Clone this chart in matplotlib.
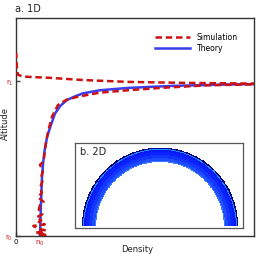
import numpy as np
import matplotlib
matplotlib.use("Agg")
import matplotlib.pyplot as plt
from matplotlib.colors import ListedColormap

# ---- data (density in units of n0, altitude: r0 -> 0, r1 -> 1) ----
theory_x = [1.0, 1.04, 1.08, 1.13, 1.2, 1.3, 1.42, 1.625, 1.85, 2.125, 2.45, 2.79, 3.5, 4.67, 6.5, 8.5, 10.0]
theory_y = [0.0, 0.2, 0.37, 0.47, 0.56, 0.64, 0.70, 0.79, 0.84, 0.877, 0.90, 0.92, 0.94, 0.955, 0.968, 0.976, 0.98]

sim_x = [1.0, 1.3, 0.8, 1.25, 0.9, 0.72, 1.2, 0.95, 1.05, 0.85, 1.1, 0.95, 1.0, 1.15, 0.92, 1.08, 1.0, 1.1,
         1.05, 1.12, 1.0, 1.15, 1.2, 1.28, 1.38, 1.5, 1.75, 2.1, 2.54, 3.5, 4.67, 6.0, 8.0, 9.9, 11.0,
         9.9, 6.83, 4.67, 2.79, 1.42, 0.3, 0.08, 0.03, 0.01]
sim_y = [0.0, 0.01, 0.02, 0.035, 0.05, 0.065, 0.075, 0.09, 0.1, 0.12, 0.14, 0.17, 0.2, 0.22, 0.25, 0.28, 0.31, 0.35,
         0.38, 0.42, 0.46, 0.48, 0.55, 0.63, 0.70, 0.77, 0.845, 0.878, 0.897, 0.925, 0.94, 0.955, 0.972, 0.978, 0.98,
         0.983, 0.988, 0.994, 1.006, 1.02, 1.028, 1.04, 1.1, 1.18]

# radial bands of the 2D ring (radius in units of outer radius) and their colours
ring_r = [0.82, 0.835, 0.87, 0.91, 0.95, 0.975, 0.988, 1.0]
ring_c = ["#3a78ff", "#1f4cff", "#1236ff", "#0a22ff", "#0818f0", "#1f8fff", "#000088"]

fig = plt.figure(figsize=(2.56, 2.54), dpi=100)
ax = fig.add_axes([16/256, 18/254, 238/256, 218/254])

red = "#cc1111"
blue = "#3b3bef"
ax.plot(sim_x, sim_y, color=red, lw=1.8, ls=(0, (2.6, 1.5)), label="Simulation", zorder=3)
ax.plot(theory_x, theory_y, color=blue, lw=1.8, label="Theory", zorder=2)

ax.set_xlim(0, 9.92)
ax.set_ylim(0, 1.406)
ax.set_xticks([0, 1])
ax.set_xticklabels(["0", r"$\mathregular{n_0}$"], fontsize=5)
ax.set_yticks([0, 1])
ax.set_yticklabels([r"$\mathregular{r_0}$", r"$\mathregular{r_1}$"], fontsize=5)
ax.get_xticklabels()[1].set_color(red)
for t in ax.get_yticklabels():
    t.set_color(red)
ax.tick_params(axis="both", direction="in", length=3, width=1, color="#444444", pad=2)
for s in ax.spines.values():
    s.set_color("#333333")
    s.set_linewidth(1.0)

fig.text(137/256, 1 - 249/254, "Density", fontsize=6, ha="center", va="center", color="#222222")
fig.text(5/256, 1 - 123/254, "Altitude", fontsize=6, ha="center", va="center", rotation=90, color="#222222")

leg = ax.legend(loc="upper right", bbox_to_anchor=(0.96, 0.965), frameon=False, fontsize=5.5,
                handlelength=4.6, handletextpad=0.8, labelspacing=0.3)

fig.text(15/256, 1 - 4/254, "a. 1D", fontsize=7, ha="left", va="top", color="#222222")

# ---- inset ----
axi = fig.add_axes([75/256, (254-228)/254, 168/256, 85/254])
axi.set_xlim(-1.09, 1.064)
axi.set_ylim(-0.02, 1.06)
axi.set_xticks([])
axi.set_yticks([])
for s in axi.spines.values():
    s.set_color("#555555")
    s.set_linewidth(0.9)
theta = np.linspace(0, np.pi, 181)
R, T = np.meshgrid(ring_r, theta)
V = np.tile(np.arange(len(ring_c)), (len(theta) - 1, 1))
axi.pcolormesh(R * np.cos(T), R * np.sin(T), V, cmap=ListedColormap(ring_c),
               vmin=-0.5, vmax=len(ring_c) - 0.5, shading="flat")
axi.text(0.03, 0.95, "b. 2D", transform=axi.transAxes, fontsize=7, ha="left", va="top", color="#222222")

fig.savefig("out.png", dpi=100)
